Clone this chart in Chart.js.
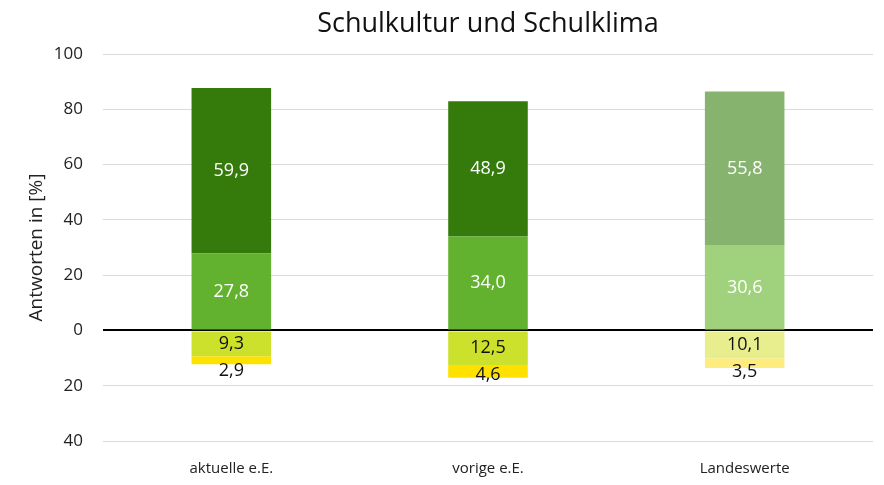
<!DOCTYPE html>
<html><head><meta charset="utf-8">
<script src="https://cdn.jsdelivr.net/npm/chart.js@4/dist/chart.umd.min.js"></script>
<style>html,body{margin:0;padding:0;background:#fff}#w{width:884px;height:485px}</style>
</head><body><div id="w"><canvas id="c"></canvas></div>
<script>
const categories = ["aktuelle e.E.", "vorige e.E.", "Landeswerte"];
const sehrPositiv = [59.9, 48.9, 55.8];
const ehrPositiv = [27.8, 34.0, 30.6];
const ehrNegativ = [-9.3, -12.5, -10.1];
const sehrNegativ = [-2.9, -4.6, -3.5];
const yTicks = [-40, -20, 0, 20, 40, 60, 80, 100];

const FONT = "'Open Sans', sans-serif";

const labelPlugin = {
  id: 'segLabels',
  afterDatasetsDraw(chart) {
    const ctx = chart.ctx;
    ctx.save();
    ctx.font = "18px " + FONT;
    ctx.textAlign = 'center';
    ctx.textBaseline = 'middle';
    const prevCenters = {};
    chart.data.datasets.forEach((ds, di) => {
      const meta = chart.getDatasetMeta(di);
      meta.data.forEach((bar, i) => {
        const v = ds.data[i];
        let y = (bar.y + bar.base) / 2;
        if (ds.pushBelow && prevCenters[i] !== undefined) {
          y = Math.max(y, prevCenters[i] + 27);
        }
        if (ds.trackCenter) prevCenters[i] = y;
        ctx.fillStyle = ds.labelColor;
        ctx.fillText(Math.abs(v).toFixed(1).replace('.', ','), bar.x, y);
      });
    });
    ctx.restore();
  }
};

new Chart(document.getElementById('c'), {
  type: 'bar',
  data: {
    labels: categories,
    datasets: [
      { data: ehrPositiv, backgroundColor: ['#62b22f', '#62b22f', '#a0d27e'], labelColor: '#fff' },
      { data: sehrPositiv, backgroundColor: ['#347b0b', '#347b0b', '#86b46e'], labelColor: '#fff' },
      { data: ehrNegativ, backgroundColor: ['#cbe12b', '#cbe12b', '#e8ee8e'], labelColor: '#111', trackCenter: true },
      { data: sehrNegativ, backgroundColor: ['#ffe100', '#ffe100', '#ffec7f'], labelColor: '#111', pushBelow: true }
    ]
  },
  options: {
    responsive: true,
    maintainAspectRatio: false,
    animation: false,
    layout: { padding: { left: 25, right: 11, top: 0, bottom: 0 } },
    datasets: { bar: { categoryPercentage: 1, barPercentage: 0.31, borderWidth: 0 } },
    plugins: {
      legend: { display: false },
      tooltip: { enabled: false },
      title: {
        display: true, fullSize: false,
        text: 'Schulkultur und Schulklima',
        color: '#111',
        font: { family: FONT, size: 27, weight: 'normal' },
        padding: { top: 8, bottom: 13.6 }
      }
    },
    scales: {
      x: {
        stacked: true,
        grid: { display: false },
        border: { display: false },
        afterFit: (a) => { a.height = 44; },
        ticks: { color: '#222', padding: 11, maxRotation: 0, minRotation: 0, font: { family: FONT, size: 15 } }
      },
      y: {
        stacked: true,
        min: -40, max: 100,
        afterBuildTicks: (axis) => { axis.ticks = yTicks.map(v => ({ value: v })); },
        afterFit: (a) => { a.width = 78; },
        border: { display: false },
        grid: {
          drawTicks: false,
          color: (c) => c.tick && c.tick.value === 0 ? '#000' : '#d9d9d9',
          lineWidth: (c) => c.tick && c.tick.value === 0 ? 2 : 1
        },
        ticks: {
          color: '#222', padding: 20,
          font: { family: FONT, size: 17 },
          callback: (v) => Math.abs(v)
        },
        title: {
          display: true, text: 'Antworten in [%]', color: '#222',
          font: { family: FONT, size: 19 }, padding: { top: 0, bottom: 5 }
        }
      }
    }
  },
  plugins: [labelPlugin]
});
</script>
</body></html>
